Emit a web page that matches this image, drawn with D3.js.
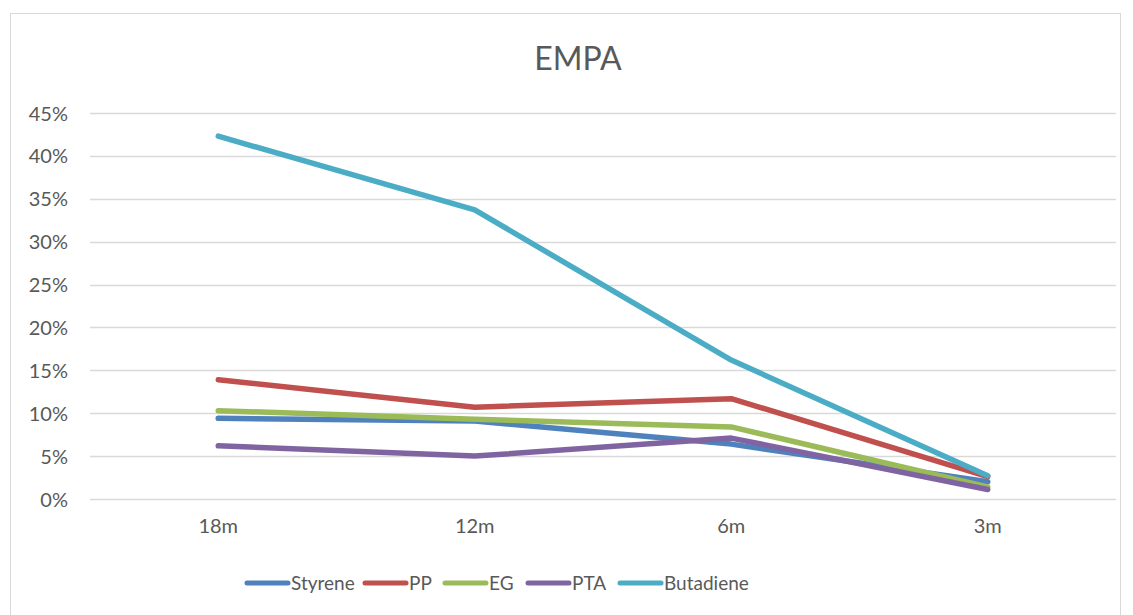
<!DOCTYPE html>
<html>
<head>
<meta charset="utf-8">
<script src="https://cdn.jsdelivr.net/npm/d3@7"></script>
<style>
  html, body { margin: 0; padding: 0; background: #fff; }
  svg { display: block; }
  text { font-family: Lato, "Open Sans", sans-serif; fill: #595959; }
</style>
</head>
<body>
<svg id="chart" width="1133" height="615"></svg>
<script>
// Time horizons (x axis)
const categories = ["18m", "12m", "6m", "3m"];

// Series values (fraction)
const styrene   = [0.094, 0.091, 0.064, 0.020];
const pp        = [0.139, 0.107, 0.117, 0.026];
const eg        = [0.103, 0.093, 0.084, 0.014];
const pta       = [0.062, 0.050, 0.071, 0.011];
const butadiene = [0.423, 0.337, 0.162, 0.027];

const yTicks = [0, 0.05, 0.10, 0.15, 0.20, 0.25, 0.30, 0.35, 0.40, 0.45];

const series = [
  { name: "Styrene",   values: styrene,   color: "#4F81BD" },
  { name: "PP",        values: pp,        color: "#C0504D" },
  { name: "EG",        values: eg,        color: "#9BBB59" },
  { name: "PTA",       values: pta,       color: "#8064A2" },
  { name: "Butadiene", values: butadiene, color: "#4BACC6" }
];

const svg = d3.select("#chart");

// Chart frame
svg.append("rect")
  .attr("x", 10.5).attr("y", 13.5)
  .attr("width", 1110).attr("height", 620)
  .attr("fill", "#fff").attr("stroke", "#d9d9d9").attr("stroke-width", 1);

const plot = { left: 90, right: 1116, top: 113, bottom: 499 };

const x = d3.scaleBand().domain(categories).range([plot.left, plot.right]);
const y = d3.scaleLinear().domain([0, 0.45]).range([plot.bottom, plot.top]);

// Title
svg.append("text")
  .attr("x", 578).attr("y", 70)
  .attr("text-anchor", "middle")
  .style("font-size", "32px")
  .text("EMPA");

// Gridlines
svg.append("g")
  .selectAll("line")
  .data(yTicks)
  .join("line")
  .attr("x1", plot.left).attr("x2", plot.right)
  .attr("y1", d => Math.round(y(d)) + 0.5).attr("y2", d => Math.round(y(d)) + 0.5)
  .attr("stroke", "#d9d9d9").attr("stroke-width", 1.5);

// Y axis labels
const yAxis = d3.axisLeft(y).tickValues(yTicks).tickFormat(d3.format(".0%")).tickSize(0).tickPadding(0);
const gy = svg.append("g").attr("transform", `translate(${68},0)`).call(yAxis);
gy.select(".domain").remove();
gy.selectAll("text").style("font-size", "20px").attr("fill", "#595959").attr("dy", "0.35em");

// X axis labels
const xAxis = d3.axisBottom(x).tickSize(0).tickPadding(0);
const gx = svg.append("g").attr("transform", `translate(0,${519})`).call(xAxis);
gx.select(".domain").remove();
gx.selectAll("text").style("font-size", "20px").attr("fill", "#595959").attr("dy", "0.71em");

// Lines
const line = d3.line()
  .x((d, i) => x(categories[i]) + x.bandwidth() / 2)
  .y(d => y(d));

svg.append("g")
  .selectAll("path")
  .data(series)
  .join("path")
  .attr("d", d => line(d.values))
  .attr("fill", "none")
  .attr("stroke", d => d.color)
  .attr("stroke-width", 5.5)
  .attr("stroke-linecap", "round")
  .attr("stroke-linejoin", "round");

// Legend
const legendX = [247, 365, 445, 528, 620];
const lg = svg.append("g")
  .selectAll("g")
  .data(series)
  .join("g")
  .attr("transform", (d, i) => `translate(${legendX[i]},583)`);
lg.append("line")
  .attr("x1", 0).attr("x2", 41).attr("y1", 0).attr("y2", 0)
  .attr("stroke", d => d.color).attr("stroke-width", 5).attr("stroke-linecap", "round");
lg.append("text")
  .attr("x", 44).attr("y", 0).attr("dy", "0.35em")
  .style("font-size", "19px")
  .text(d => d.name);
</script>
</body>
</html>
